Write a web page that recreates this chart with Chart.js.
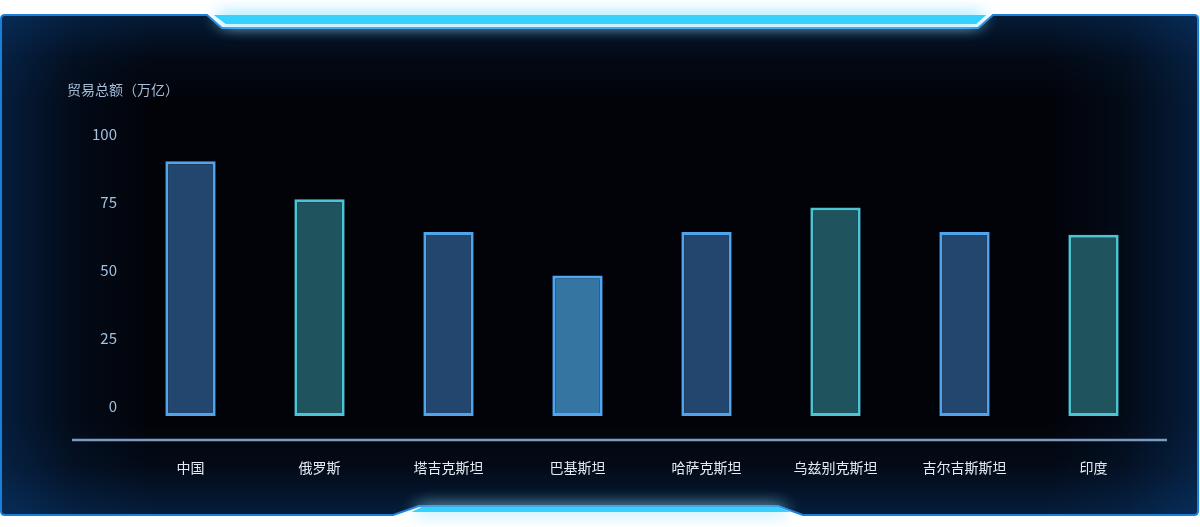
<!DOCTYPE html>
<html>
<head>
<meta charset="utf-8">
<script src="https://cdn.jsdelivr.net/npm/chart.js@4"></script>
<style>
  html, body { margin: 0; padding: 0; background: #fff; }
  #tradeChart { display: block; }
</style>
</head>
<body>
<canvas id="tradeChart" width="1200" height="527"></canvas>
<script>
// data
const countries = ["中国", "俄罗斯", "塔吉克斯坦", "巴基斯坦", "哈萨克斯坦", "乌兹别克斯坦", "吉尔吉斯斯坦", "印度"];
const tradeTotals = [90, 76, 64, 48, 64, 73, 64, 63];
const yTickValues = [0, 25, 50, 75, 100];
const yAxisTitle = "贸易总额（万亿）";

// bar styles (per category)
const barFills = ["#22466d", "#1f535d", "#22466d", "#3475a1", "#22466d", "#1f535d", "#22466d", "#1f535d"];
const barBorders = ["#50a4ee", "#4cc4d4", "#50a4ee", "#50a6f4", "#50a4ee", "#4cc4d4", "#50a4ee", "#4cc4d4"];

Chart.defaults.font.family = '"Noto Sans CJK SC", "Noto Sans", sans-serif';

// panel background, notches and glow bars
const framePlugin = {
  id: "frame",
  beforeDraw(chart) {
    const ctx = chart.ctx;
    const W = chart.width, H = chart.height;
    ctx.save();
    ctx.fillStyle = "#ffffff";
    ctx.fillRect(0, 0, W, H);

    const L = 1, R = 1198, T = 15, B = 515, r = 4;
    const panel = new Path2D();
    panel.moveTo(L + r, T);
    panel.lineTo(207, T);
    panel.lineTo(222, 28);
    panel.lineTo(978, 28);
    panel.lineTo(993, T);
    panel.lineTo(R - r, T);
    panel.quadraticCurveTo(R, T, R, T + r);
    panel.lineTo(R, B - r);
    panel.quadraticCurveTo(R, B, R - r, B);
    panel.lineTo(803, B);
    panel.lineTo(778, 506);
    panel.lineTo(419, 506);
    panel.lineTo(393, B);
    panel.lineTo(L + r, B);
    panel.quadraticCurveTo(L, B, L, B - r);
    panel.lineTo(L, T + r);
    panel.quadraticCurveTo(L, T, L + r, T);
    panel.closePath();

    ctx.save();
    ctx.clip(panel);
    ctx.fillStyle = "#020309";
    ctx.fillRect(0, 0, W, H);
    // inner edge glow
    const edge = "rgba(10,66,130,";
    let g = ctx.createLinearGradient(0, 0, 150, 0);
    g.addColorStop(0, edge + "0.42)"); g.addColorStop(0.5, edge + "0.12)"); g.addColorStop(1, edge + "0)");
    ctx.fillStyle = g; ctx.fillRect(0, 0, 150, H);
    g = ctx.createLinearGradient(W, 0, W - 150, 0);
    g.addColorStop(0, edge + "0.42)"); g.addColorStop(0.5, edge + "0.12)"); g.addColorStop(1, edge + "0)");
    ctx.fillStyle = g; ctx.fillRect(W - 150, 0, 150, H);
    g = ctx.createLinearGradient(0, 15, 0, 100);
    g.addColorStop(0, edge + "0.38)"); g.addColorStop(0.5, edge + "0.1)"); g.addColorStop(1, edge + "0)");
    ctx.fillStyle = g; ctx.fillRect(0, 15, W, 85);
    g = ctx.createLinearGradient(0, 515, 0, 420);
    g.addColorStop(0, edge + "0.42)"); g.addColorStop(0.5, edge + "0.12)"); g.addColorStop(1, edge + "0)");
    ctx.fillStyle = g; ctx.fillRect(0, 420, W, 95);
    ctx.restore();

    ctx.strokeStyle = "#1a7fd6";
    ctx.lineWidth = 2;
    ctx.stroke(panel);

    // cyan bars with glow
    ctx.fillStyle = "#36d1ff";
    for (let i = 0; i < 2; i++) {
      ctx.shadowColor = "rgba(150,232,255,0.85)";
      ctx.shadowBlur = 16;
      ctx.beginPath();
      ctx.moveTo(214, 15); ctx.lineTo(226, 24); ctx.lineTo(976, 24); ctx.lineTo(986, 15);
      ctx.closePath(); ctx.fill();
      ctx.beginPath();
      ctx.moveTo(412, 512); ctx.lineTo(422, 507); ctx.lineTo(778, 507); ctx.lineTo(790, 512);
      ctx.closePath(); ctx.fill();
    }
    ctx.restore();
  },
  beforeDatasetsDraw(chart) {
    const ctx = chart.ctx;
    const area = chart.chartArea;
    ctx.save();
    // axis title
    ctx.fillStyle = "#a7bed8";
    ctx.font = '14px "Noto Sans CJK SC", sans-serif';
    ctx.textBaseline = "middle";
    ctx.textAlign = "left";
    ctx.fillText(yAxisTitle, 67, 90);
    // long baseline under the bars
    ctx.strokeStyle = "#7a9cc2";
    ctx.lineWidth = 2.5;
    ctx.beginPath();
    ctx.moveTo(72, area.bottom + 24);
    ctx.lineTo(1167, area.bottom + 24);
    ctx.stroke();
    ctx.restore();
  }
};

const ctx = document.getElementById("tradeChart").getContext("2d");
const tradeChart = new Chart(ctx, {
  type: "bar",
  data: {
    labels: countries,
    datasets: [
      {
        label: yAxisTitle,
        data: tradeTotals,
        base: -3.6,
        backgroundColor: barFills,
        borderColor: barBorders,
        borderWidth: 3,
        borderSkipped: false,
        barPercentage: 0.39,
        categoryPercentage: 1,
      },
    ],
  },
  options: {
    responsive: false,
    devicePixelRatio: 1,
    animation: false,
    layout: { padding: { top: 134, right: 42, left: 0, bottom: 0 } },
    plugins: {
      legend: { display: false },
      tooltip: { enabled: false },
    },
    scales: {
      x: {
        grid: { display: false, drawTicks: false },
        border: { display: false },
        ticks: {
          color: "#e4ebf3",
          font: { size: 14 },
          padding: 43,
          maxRotation: 0,
          autoSkip: false,
        },
        afterFit(axis) { axis.height = 111; },
      },
      y: {
        min: -3.6,
        max: 100,
        afterBuildTicks(axis) { axis.ticks = yTickValues.map(v => ({ value: v })); },
        grid: { display: false, drawTicks: false },
        border: { display: false },
        ticks: { color: "#a3c1e0", font: { size: 15 }, padding: 9 },
        afterFit(axis) { axis.width = 126; },
      },
    },
  },
  plugins: [framePlugin],
});
</script>
</body>
</html>
